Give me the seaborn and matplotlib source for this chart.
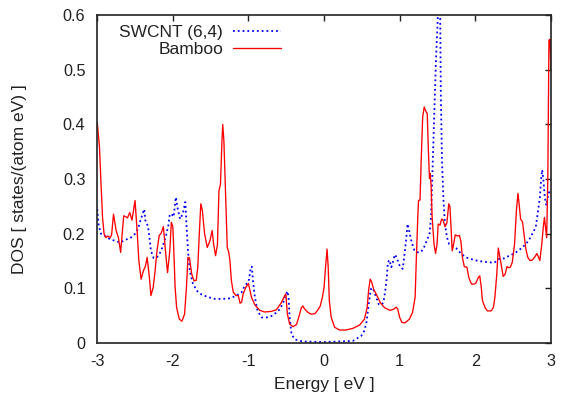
import matplotlib
matplotlib.use("Agg")
import matplotlib.pyplot as plt
import seaborn as sns

# ------------------------------
# Data
# ------------------------------
bamboo_e = [-3.0, -2.97, -2.95, -2.93, -2.91, -2.885, -2.86, -2.83, -2.81, -2.785,
            -2.75, -2.72, -2.69, -2.65, -2.62, -2.60, -2.57, -2.54, -2.50, -2.47,
            -2.45, -2.42, -2.39, -2.36, -2.34, -2.31, -2.29, -2.26, -2.235, -2.21,
            -2.18, -2.155, -2.125, -2.09, -2.07, -2.04, -2.02, -2.0, -1.99, -1.97,
            -1.95, -1.915, -1.88, -1.845, -1.82, -1.80, -1.78, -1.75, -1.72, -1.69,
            -1.67, -1.65, -1.63, -1.61, -1.58, -1.545, -1.51, -1.48, -1.46, -1.435,
            -1.41, -1.39, -1.37, -1.35, -1.34, -1.325, -1.30, -1.28, -1.26, -1.245,
            -1.225, -1.20, -1.165, -1.135, -1.11, -1.09, -1.07, -1.035, -1.0, -0.96,
            -0.915, -0.85, -0.785, -0.70, -0.63, -0.565, -0.52, -0.505, -0.485, -0.455,
            -0.41, -0.365, -0.335, -0.30, -0.28, -0.26, -0.21, -0.17, -0.12, -0.08,
            -0.05, -0.02, 0.0, 0.02, 0.04, 0.055, 0.07, 0.095, 0.14, 0.205,
            0.29, 0.38, 0.47, 0.535, 0.57, 0.59, 0.61, 0.63, 0.655, 0.70,
            0.745, 0.80, 0.87, 0.92, 0.955, 0.975, 1.0, 1.03, 1.07, 1.13,
            1.17, 1.205, 1.22, 1.24, 1.25, 1.27, 1.285, 1.305, 1.325, 1.35,
            1.365, 1.38, 1.395, 1.405, 1.415, 1.43, 1.455, 1.475, 1.495, 1.51,
            1.535, 1.555, 1.575, 1.60, 1.625, 1.65, 1.665, 1.68, 1.695, 1.71,
            1.735, 1.765, 1.79, 1.81, 1.83, 1.855, 1.89, 1.915, 1.95, 1.985,
            2.01, 2.04, 2.06, 2.08, 2.095, 2.13, 2.16, 2.21, 2.24, 2.26,
            2.285, 2.305, 2.32, 2.345, 2.37, 2.395, 2.42, 2.44, 2.465, 2.49,
            2.52, 2.545, 2.565, 2.58, 2.60, 2.625, 2.645, 2.67, 2.695, 2.725,
            2.755, 2.79, 2.815, 2.835, 2.855, 2.88, 2.90, 2.915, 2.935, 2.945,
            2.96, 2.975, 2.99, 3.0]
bamboo_dos = [0.404, 0.358, 0.291, 0.230, 0.200, 0.193, 0.196, 0.193, 0.198, 0.236,
              0.206, 0.193, 0.166, 0.233, 0.231, 0.229, 0.239, 0.225, 0.261, 0.200,
              0.151, 0.117, 0.132, 0.142, 0.157, 0.120, 0.087, 0.102, 0.132, 0.169,
              0.197, 0.201, 0.213, 0.157, 0.129, 0.169, 0.221, 0.213, 0.180, 0.102,
              0.065, 0.044, 0.040, 0.053, 0.102, 0.157, 0.156, 0.126, 0.114, 0.115,
              0.139, 0.200, 0.255, 0.243, 0.200, 0.175, 0.187, 0.206, 0.181, 0.160,
              0.180, 0.279, 0.291, 0.371, 0.400, 0.371, 0.261, 0.175, 0.166, 0.151,
              0.114, 0.093, 0.087, 0.087, 0.073, 0.075, 0.090, 0.102, 0.109, 0.084,
              0.070, 0.060, 0.057, 0.058, 0.061, 0.074, 0.087, 0.090, 0.053, 0.035,
              0.030, 0.034, 0.047, 0.065, 0.068, 0.063, 0.056, 0.053, 0.054, 0.061,
              0.068, 0.085, 0.102, 0.139, 0.172, 0.139, 0.077, 0.047, 0.029, 0.024,
              0.024, 0.027, 0.033, 0.044, 0.065, 0.097, 0.117, 0.112, 0.099, 0.087,
              0.074, 0.065, 0.060, 0.062, 0.066, 0.062, 0.047, 0.038, 0.037, 0.044,
              0.056, 0.084, 0.151, 0.230, 0.261, 0.262, 0.334, 0.414, 0.432, 0.423,
              0.420, 0.353, 0.301, 0.310, 0.291, 0.230, 0.181, 0.164, 0.181, 0.218,
              0.216, 0.227, 0.225, 0.213, 0.220, 0.255, 0.250, 0.212, 0.169, 0.178,
              0.198, 0.196, 0.197, 0.187, 0.157, 0.140, 0.139, 0.120, 0.108, 0.108,
              0.110, 0.120, 0.123, 0.102, 0.078, 0.065, 0.059, 0.059, 0.065, 0.084,
              0.126, 0.174, 0.162, 0.142, 0.122, 0.126, 0.140, 0.138, 0.139, 0.148,
              0.181, 0.243, 0.274, 0.255, 0.227, 0.222, 0.200, 0.172, 0.157, 0.151,
              0.152, 0.158, 0.164, 0.158, 0.151, 0.181, 0.212, 0.230, 0.205, 0.193,
              0.303, 0.554, 0.556, 0.500]

swcnt_e = [-3.0, -2.98, -2.95, -2.895, -2.83, -2.76, -2.70, -2.63, -2.565, -2.50,
           -2.46, -2.43, -2.40, -2.38, -2.36, -2.33, -2.31, -2.29, -2.255, -2.22,
           -2.19, -2.155, -2.125, -2.095, -2.06, -2.04, -2.015, -1.99, -1.975, -1.96,
           -1.94, -1.905, -1.87, -1.835, -1.82, -1.80, -1.775, -1.74, -1.685, -1.62,
           -1.53, -1.445, -1.335, -1.245, -1.16, -1.09, -1.05, -1.015, -0.99, -0.97,
           -0.955, -0.94, -0.915, -0.88, -0.825, -0.76, -0.69, -0.63, -0.585, -0.54,
           -0.51, -0.485, -0.47, -0.455, -0.43, -0.385, -0.32, -0.255, 0.0, 0.38,
           0.44, 0.49, 0.535, 0.565, 0.59, 0.62, 0.645, 0.665, 0.69, 0.725,
           0.755, 0.785, 0.81, 0.83, 0.845, 0.865, 0.89, 0.91, 0.935, 0.96,
           0.99, 1.01, 1.04, 1.06, 1.085, 1.105, 1.13, 1.16, 1.195, 1.24,
           1.285, 1.325, 1.36, 1.395, 1.415, 1.435, 1.46, 1.48, 1.50, 1.52,
           1.535, 1.545, 1.56, 1.58, 1.60, 1.625, 1.655, 1.70, 1.745, 1.81,
           1.875, 1.94, 2.05, 2.18, 2.25, 2.315, 2.38, 2.45, 2.515, 2.58,
           2.645, 2.705, 2.755, 2.80, 2.825, 2.855, 2.87, 2.885, 2.90, 2.92,
           2.94, 2.96, 2.975, 3.0]
swcnt_dos = [0.245, 0.215, 0.200, 0.196, 0.190, 0.187, 0.184, 0.189, 0.192, 0.200,
             0.209, 0.224, 0.236, 0.245, 0.221, 0.215, 0.194, 0.169, 0.156, 0.156,
             0.160, 0.169, 0.181, 0.194, 0.215, 0.236, 0.236, 0.231, 0.249, 0.267,
             0.249, 0.227, 0.236, 0.258, 0.218, 0.169, 0.132, 0.111, 0.096, 0.089,
             0.084, 0.081, 0.081, 0.082, 0.087, 0.093, 0.105, 0.110, 0.117, 0.139,
             0.140, 0.114, 0.084, 0.059, 0.047, 0.047, 0.050, 0.056, 0.062, 0.074,
             0.087, 0.095, 0.085, 0.047, 0.016, 0.007, 0.004, 0.003, 0.002, 0.004,
             0.009, 0.013, 0.023, 0.041, 0.071, 0.099, 0.101, 0.093, 0.084, 0.071,
             0.070, 0.074, 0.096, 0.120, 0.148, 0.152, 0.139, 0.148, 0.162, 0.157,
             0.145, 0.139, 0.136, 0.157, 0.188, 0.218, 0.203, 0.184, 0.170, 0.166,
             0.167, 0.176, 0.188, 0.200, 0.230, 0.316, 0.426, 0.517, 0.579, 0.660,
             0.620, 0.456, 0.334, 0.261, 0.218, 0.194, 0.181, 0.178, 0.174, 0.164,
             0.157, 0.154, 0.150, 0.148, 0.147, 0.154, 0.155, 0.160, 0.164, 0.170,
             0.178, 0.187, 0.200, 0.212, 0.236, 0.267, 0.297, 0.317, 0.301, 0.267,
             0.252, 0.267, 0.276, 0.276]

x_ticks = [-3, -2, -1, 0, 1, 2, 3]
x_ticklabels = ['-3', '-2', '-1', '0', '1', '2', '3']
y_ticks = [0, 0.1, 0.2, 0.3, 0.4, 0.5, 0.6]
y_ticklabels = ['0', '0.1', '0.2', '0.3', '0.4', '0.5', '0.6']

# ------------------------------
# Style
# ------------------------------
sns.set_style('white')
plt.rcParams['font.family'] = ['Liberation Sans', 'DejaVu Sans']
plt.rcParams['axes.unicode_minus'] = False
tick_fs = 11.7
label_fs = 12.5
ink = '#222222'

fig = plt.figure(figsize=(5.72, 3.99), dpi=100)
ax = fig.add_axes([0.170, 0.140, 0.793, 0.822])

sns.lineplot(x=swcnt_e, y=swcnt_dos, ax=ax, color='#0000ff', linestyle=':',
             linewidth=1.3, label='SWCNT (6,4)')
sns.lineplot(x=bamboo_e, y=bamboo_dos, ax=ax, color='#ff0000', linestyle='-',
             linewidth=0.95, label='Bamboo')

ax.set_xlim(-3, 3)
ax.set_ylim(0, 0.6)
ax.set_xticks(x_ticks)
ax.set_xticklabels(x_ticklabels, fontsize=tick_fs, color=ink)
ax.set_yticks(y_ticks)
ax.set_yticklabels(y_ticklabels, fontsize=tick_fs, color=ink)
ax.tick_params(direction='in', length=4, width=1, top=True, right=True, color=ink)
ax.tick_params(axis='x', pad=7.5)
ax.tick_params(axis='y', pad=8.5)
for s in ax.spines.values():
    s.set_color(ink)
    s.set_linewidth(1.2)

ax.set_xlabel('Energy [ eV ]', fontsize=label_fs, color=ink, va='top')
ax.set_ylabel('DOS [ states/(atom eV) ]', fontsize=label_fs, color=ink)
ax.xaxis.set_label_coords(0.5, -0.104)
ax.yaxis.set_label_coords(-0.155, 0.5)

# gnuplot-style key: right-aligned text, sample to the right
leg = ax.legend(loc='upper right', bbox_to_anchor=(0.405, 0.969), frameon=False,
                markerfirst=False, handlelength=2.76, handletextpad=0.57,
                labelspacing=0.06, borderpad=0, borderaxespad=0, fontsize=label_fs)
for t in leg.get_texts():
    t.set_color(ink)

fig.savefig('out.png', dpi=100)
